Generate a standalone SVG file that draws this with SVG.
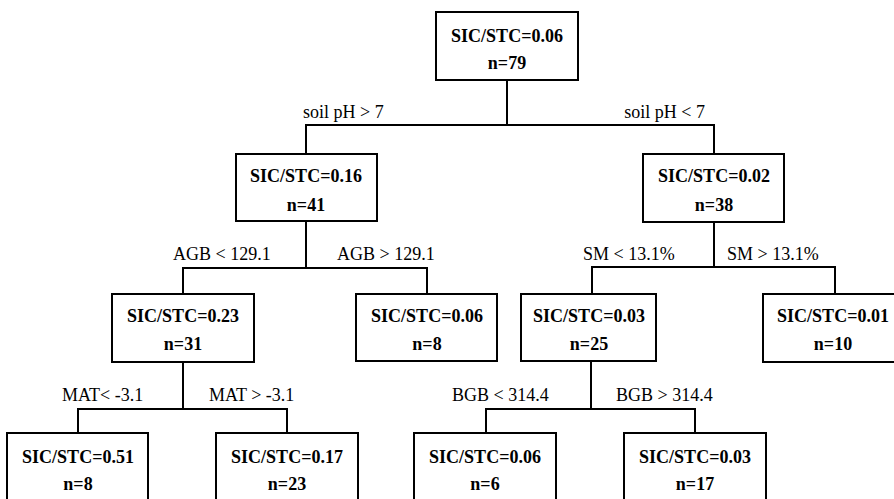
<svg xmlns="http://www.w3.org/2000/svg" width="894" height="499" viewBox="0 0 894 499">
<style>
.box{fill:#fff;stroke:#000;stroke-width:2}
.t{font-family:"Liberation Serif","Times New Roman",serif;font-size:18px;font-weight:bold;text-anchor:middle;fill:#000}
.lbl{font-family:"Liberation Serif","Times New Roman",serif;font-size:18px;fill:#000}
.c{fill:none;stroke:#000;stroke-width:2}
</style>
<rect width="894" height="499" fill="#fff"/>
<g id="connectors">
<path class="c" d="M507 80V125M306 154V125H714V154"/>
<path class="c" d="M306 221V268M183 294V268H427V294"/>
<path class="c" d="M714 222V267M592 294V267H835V294"/>
<path class="c" d="M183 362V409M78 433V409H287V433"/>
<path class="c" d="M591 361V409M486 433V409H695V433"/>
<text class="lbl" x="303" y="118">soil pH &gt; 7</text>
<text class="lbl" x="705" y="118" text-anchor="end">soil pH &lt; 7</text>
<text class="lbl" x="173" y="260">AGB &lt; 129.1</text>
<text class="lbl" x="337" y="260">AGB &gt; 129.1</text>
<text class="lbl" x="583" y="260">SM &lt; 13.1%</text>
<text class="lbl" x="727" y="260">SM &gt; 13.1%</text>
<text class="lbl" x="62" y="401">MAT&lt; -3.1</text>
<text class="lbl" x="209" y="401">MAT &gt; -3.1</text>
<text class="lbl" x="452" y="401">BGB &lt; 314.4</text>
<text class="lbl" x="616" y="401">BGB &gt; 314.4</text>
</g>
<g id="n0"><rect class="box" x="436" y="12" width="142" height="68"/><text class="t" x="507" y="42">SIC/STC=0.06</text><text class="t" x="507" y="69">n=79</text></g>
<g id="n1"><rect class="box" x="236" y="154" width="141" height="67"/><text class="t" x="306" y="182">SIC/STC=0.16</text><text class="t" x="306" y="211">n=41</text></g>
<g id="n2"><rect class="box" x="643" y="154" width="141" height="68"/><text class="t" x="714" y="182">SIC/STC=0.02</text><text class="t" x="714" y="211">n=38</text></g>
<g id="n3"><rect class="box" x="112" y="294" width="142" height="68"/><text class="t" x="183" y="322">SIC/STC=0.23</text><text class="t" x="183" y="350">n=31</text></g>
<g id="n4"><rect class="box" x="356" y="294" width="141" height="67"/><text class="t" x="427" y="322">SIC/STC=0.06</text><text class="t" x="427" y="350">n=8</text></g>
<g id="n5"><rect class="box" x="521" y="294" width="135" height="67"/><text class="t" x="589" y="322">SIC/STC=0.03</text><text class="t" x="589" y="350">n=25</text></g>
<g id="n6"><rect class="box" x="763" y="294" width="142" height="68"/><text class="t" x="833" y="322">SIC/STC=0.01</text><text class="t" x="833" y="350">n=10</text></g>
<g id="n7"><rect class="box" x="7" y="433" width="141" height="80"/><text class="t" x="78" y="463">SIC/STC=0.51</text><text class="t" x="78" y="490">n=8</text></g>
<g id="n8"><rect class="box" x="216" y="433" width="142" height="80"/><text class="t" x="287" y="463">SIC/STC=0.17</text><text class="t" x="287" y="490">n=23</text></g>
<g id="n9"><rect class="box" x="414" y="433" width="142" height="80"/><text class="t" x="485" y="463">SIC/STC=0.06</text><text class="t" x="485" y="490">n=6</text></g>
<g id="n10"><rect class="box" x="624" y="433" width="142" height="80"/><text class="t" x="695" y="463">SIC/STC=0.03</text><text class="t" x="695" y="490">n=17</text></g>
</svg>
